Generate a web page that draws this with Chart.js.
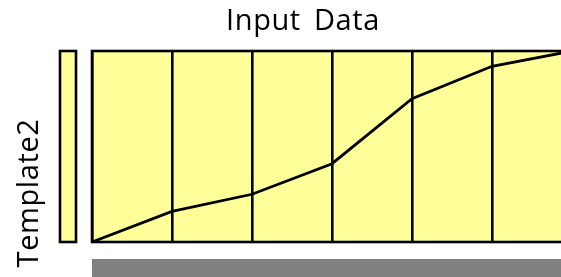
<!DOCTYPE html>
<html>
<head>
<meta charset="utf-8">
<script src="https://cdn.jsdelivr.net/npm/chart.js@4/dist/chart.umd.min.js"></script>
<style>
  html, body { margin: 0; padding: 0; overflow: hidden; background: #fff; }
  #wrap { position: absolute; left: 0; top: 0; width: 606px; height: 300px; }
</style>
</head>
<body>
<div id="wrap"><canvas id="chart" width="606" height="300"></canvas></div>
<script>
// chart data
const categories = ["1", "2", "3", "4", "5", "6", "7"];
const inputValues = [0, 16, 25, 41, 75, 92, 100];
const chartTitle = "Input Data";
const yAxisLabel = "Template2";

const FONT = "'Open Sans', sans-serif";
const LINE_W = 2.6;

// background, side box, scroll bar and rotated label
const decorPlugin = {
  id: "decor",
  beforeDraw(chart) {
    const { ctx, chartArea: a } = chart;
    // slightly looser text like the original
    ctx.letterSpacing = "0.6px";
    ctx.wordSpacing = "5px";
    ctx.save();
    // plot fill
    ctx.fillStyle = "#FFFF99";
    ctx.fillRect(a.left, a.top, a.right - a.left, a.bottom - a.top);
    // small box at the left of the plot
    ctx.fillRect(a.left - 32, a.top, 16, a.bottom - a.top);
    ctx.strokeStyle = "#000";
    ctx.lineWidth = LINE_W;
    ctx.strokeRect(a.left - 32, a.top, 16, a.bottom - a.top);
    // gray bar under the plot
    ctx.fillStyle = "#808080";
    ctx.fillRect(a.left, a.bottom + 17, a.right - a.left + 40, 40);
    // rotated axis label
    ctx.translate(a.left - 54, a.bottom - 49);
    ctx.rotate(-Math.PI / 2);
    ctx.fillStyle = "#000";
    ctx.font = "29px " + FONT;
    ctx.textAlign = "center";
    ctx.textBaseline = "alphabetic";
    ctx.fillText(yAxisLabel, 0, 0);
    ctx.restore();
  },
  beforeDatasetsDraw(chart) {
    const { ctx, chartArea: a } = chart;
    ctx.save();
    ctx.strokeStyle = "#000";
    ctx.lineWidth = LINE_W;
    ctx.strokeRect(a.left, a.top, a.right - a.left, a.bottom - a.top);
    ctx.restore();
  },
};

const hiddenAxis = (width, position) => ({
  type: "linear",
  position: position,
  display: true,
  min: 0,
  max: 100,
  ticks: { display: false },
  grid: { display: false },
  border: { display: false },
  afterFit(scale) {
    scale.width = width;
  },
});

new Chart(document.getElementById("chart").getContext("2d"), {
  type: "line",
  data: {
    labels: categories,
    datasets: [
      {
        label: chartTitle,
        data: inputValues,
        borderColor: "#000",
        borderWidth: 2.8,
        pointRadius: 0,
        tension: 0,
        fill: false,
      },
    ],
  },
  options: {
    responsive: false,
    animation: false,
    layout: { padding: { left: 0, right: 0, top: 0, bottom: 58 } },
    plugins: {
      legend: { display: false },
      tooltip: { enabled: false },
      title: {
        display: true,
        text: chartTitle,
        color: "#000",
        font: { family: FONT, size: 29, weight: "normal", lineHeight: 1.2 },
        padding: { top: 4, bottom: 12.2 },
      },
    },
    scales: {
      x: {
        type: "category",
        display: true,
        offset: false,
        ticks: { display: false },
        border: { display: false },
        grid: { color: "#000", lineWidth: LINE_W, drawTicks: false },
      },
      y: hiddenAxis(92, "left"),
      y2: hiddenAxis(34, "right"),
    },
  },
  plugins: [decorPlugin],
});
</script>
</body>
</html>
